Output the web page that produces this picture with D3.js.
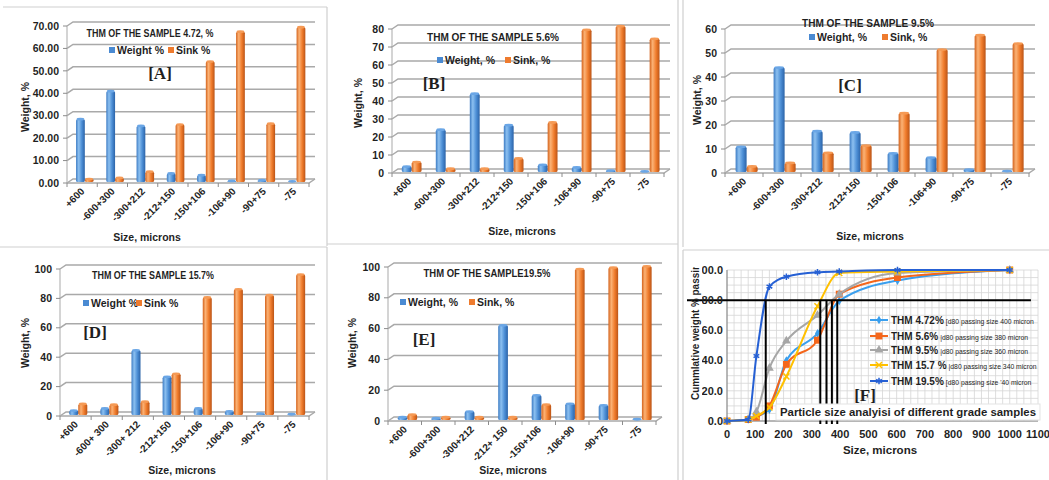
<!DOCTYPE html>
<html>
<head>
<meta charset="utf-8">
<script src="https://cdn.jsdelivr.net/npm/d3@7"></script>
<style>
  body { margin: 0; background: #fff; }
  text { font-family: "Liberation Sans Narrow", "Arial Narrow", "Liberation Sans", Arial, sans-serif; font-weight: bold; fill: #1f1f1f; }
</style>
</head>
<body>
<svg width="1049" height="480"></svg>
<script>
"use strict";

// size classes (microns) used by the five bar charts
let sizeClasses = ["+600", "-600+300", "-300+212", "-212+150", "-150+106", "-106+90", "-90+75", "-75"];
let sizeClassesD = ["+600", "-600+ 300", "-300+ 212", "-212+150", "-150+106", "-106+90", "-90+75", "-75"];
let sizeClassesE = ["+600", "-600+300", "-300+212", "-212+ 150", "-150+106", "-106+90", "-90+75", "-75"];

// [A] THM 4.72 %
let weightA = [28, 40.5, 25, 3.8, 3, 0.5, 0.8, 0.3];
let sinkA = [1.3, 1.8, 4.6, 25.6, 53.7, 67, 26, 69];
// [B] THM 5.6 %
let weightB = [3, 23.5, 43.5, 26, 4, 2.5, 0.8, 0.3];
let sinkB = [5.5, 1.8, 1.8, 7.5, 27.5, 79, 81, 74];
// [C] THM 9.5 %
let weightC = [10.5, 43.5, 17, 16.5, 7.8, 6, 1, 0.4];
let sinkC = [2.3, 3.8, 8, 11, 24.5, 51, 57, 53.5];
// [D] THM 15.7 %
let weightD = [3, 4.5, 44, 26, 4.5, 2.5, 1, 0.5];
let sinkD = [7.5, 7, 9, 28, 80, 85.5, 81.5, 95.5];
// [E] THM 19.5 %
let weightE = [1.8, 1.2, 5.5, 61.5, 16, 10.5, 9.5, 0.5];
let sinkE = [3.5, 1.8, 1.8, 1.8, 10, 98, 99, 99.8];

let ticks70 = [0, 10, 20, 30, 40, 50, 60, 70];
let ticks80 = [0, 10, 20, 30, 40, 50, 60, 70, 80];
let ticks60 = [0, 10, 20, 30, 40, 50, 60];
let ticks100 = [0, 20, 40, 60, 80, 100];

// [F] cumulative % passing
let passSizes = [0, 75, 104, 150, 210, 320, 397, 603, 1000];
let pass472 = [0, 1, 3, 7.5, 40, 58, 79.5, 93, 100];
let pass56 = [0, 1, 2.5, 10, 37.5, 53.5, 84, 95, 100];
let pass95 = [0, 1, 6, 35, 53, 70, 84, 98, 100];
let pass157 = [0, 1, 3.3, 9, 29.5, 76, 98, 99, 100];
let pass195 = [0, 1, 43, 89, 95.5, 98.5, 99, 100, 100];
let d80Sizes = [137, 330, 352, 371, 390];
let seriesNames = ["THM 4.72%", "THM 5.6%", "THM 9.5%", "THM 15.7 %", "THM 19.5%"];
let seriesNotes = ["[d80 passing size 400 micron", "|d80 passing size 380 micron", "|d80 passing size 360 micron",
                   "|d80 passing size 340 micron", "[d80 passing size '40 micron"];
let sizeTicks = [0, 100, 200, 300, 400, 500, 600, 700, 800, 900, 1000, 1100];
let passTicks = [0, 20, 40, 60, 80, 100];

let svg = d3.select("svg");
svg.append("rect").attr("width", 1049).attr("height", 480).attr("fill", "#fff");

let defs = svg.append("defs");

function addGrad(id, stops) {
    let gr = defs.append("linearGradient").attr("id", id).attr("x1", "0%").attr("x2", "100%");
    stops.forEach(function (s) {
        gr.append("stop").attr("offset", s[0]).attr("stop-color", s[1]);
    });
}
addGrad("gBlue", [["0%", "#3d7cc4"], ["30%", "#8cc0f0"], ["65%", "#4d8fd6"], ["100%", "#2b63a8"]]);
addGrad("gOrange", [["0%", "#d4631c"], ["30%", "#fbb275"], ["65%", "#f07c2c"], ["100%", "#bb5416"]]);

// panel frames
let frames = [[3, 7, 327, 7], [327, 7, 327, 246], [0, 247, 327, 247], [327, 247, 327, 480],
              [678, 0, 678, 244], [327, 244, 678, 244], [678, 244, 678, 480],
              [683, 0, 683, 247], [683, 250, 1049, 250], [683, 250, 683, 480]];
svg.append("g").selectAll("line").data(frames).enter().append("line")
    .attr("x1", function (d) { return d[0]; }).attr("y1", function (d) { return d[1]; })
    .attr("x2", function (d) { return d[2]; }).attr("y2", function (d) { return d[3]; })
    .attr("stroke", "#cfcfcf").attr("stroke-width", 1.2);

function barPanel(c) {
    let g = svg.append("g");
    let dx = 6, dy = 4;
    let x0 = d3.scaleBand().domain(c.labels).range([c.left, c.right - dx]);
    let bw = x0.bandwidth();
    let x1 = d3.scaleBand().domain(["w", "s"]).range([0, bw * 0.58]);
    let y = d3.scaleLinear().domain([0, c.max]).range([c.bottom, c.top]);

    // back wall + side wall gridlines
    g.append("g").selectAll("path").data(c.ticks).enter().append("path")
        .attr("d", function (t) {
            return "M" + c.left + "," + y(t) + "L" + (c.left + dx) + "," + (y(t) - dy) + "L" + c.right + "," + (y(t) - dy);
        })
        .attr("fill", "none").attr("stroke", "#a9a9a9").attr("stroke-width", 1.5);
    // floor front edge
    g.append("path")
        .attr("d", "M" + c.left + "," + y(0) + "L" + (c.right - dx) + "," + y(0) + "L" + c.right + "," + (y(0) - dy))
        .attr("fill", "none").attr("stroke", "#a9a9a9").attr("stroke-width", 1.5);
    // axis line and ticks
    g.append("line").attr("x1", c.left).attr("x2", c.left).attr("y1", y(0)).attr("y2", y(c.max))
        .attr("stroke", "#a9a9a9").attr("stroke-width", 1);
    g.append("g").selectAll("line").data(c.ticks).enter().append("line")
        .attr("x1", c.left - 4).attr("x2", c.left).attr("y1", function (t) { return y(t); }).attr("y2", function (t) { return y(t); })
        .attr("stroke", "#8c8c8c");
    g.append("g").selectAll("line").data(d3.range(c.labels.length + 1)).enter().append("line")
        .attr("x1", function (i) { return c.left + i * bw; }).attr("x2", function (i) { return c.left + i * bw; })
        .attr("y1", y(0)).attr("y2", y(0) + 4).attr("stroke", "#8c8c8c");

    g.append("g").selectAll("text").data(c.ticks).enter().append("text")
        .attr("x", c.left - 8).attr("y", function (t) { return y(t); }).attr("dy", "0.35em")
        .attr("text-anchor", "end").attr("font-size", 10.5)
        .text(function (t) { return c.fmt(t); });

    // bars
    let rows = c.labels.map(function (l, i) {
        return [{ key: "w", label: l, value: c.weight[i] }, { key: "s", label: l, value: c.sink[i] }];
    });
    let bars = g.append("g").selectAll("g").data(rows).enter().append("g")
        .attr("transform", function (d) { return "translate(" + (x0(d[0].label) + bw * 0.2 + dx / 2) + ",0)"; })
        .selectAll("g").data(function (d) { return d; }).enter().append("g");
    bars.append("rect")
        .attr("x", function (d) { return x1(d.key); })
        .attr("y", function (d) { return y(d.value) - 1; })
        .attr("width", x1.bandwidth())
        .attr("height", function (d) { return y(0) - y(d.value); })
        .attr("rx", 1.5)
        .attr("fill", function (d) { return d.key === "w" ? "url(#gBlue)" : "url(#gOrange)"; });
    bars.append("ellipse")
        .attr("cx", function (d) { return x1(d.key) + x1.bandwidth() / 2; })
        .attr("cy", function (d) { return y(d.value) - 1; })
        .attr("rx", x1.bandwidth() / 2 - 0.5).attr("ry", 1.4)
        .attr("fill", function (d) { return d.key === "w" ? "#6aa6e6" : "#f59a55"; });

    // category labels
    g.append("g").selectAll("text").data(c.labels).enter().append("text")
        .attr("transform", function (l) { return "translate(" + (x0(l) + bw / 2 + 3) + "," + (y(0) + 9) + ") rotate(-45)"; })
        .attr("text-anchor", "end").attr("font-size", 10)
        .text(function (l) { return l; });

    g.append("text").attr("x", c.titleX).attr("y", c.titleY).attr("dy", "0.35em")
        .attr("text-anchor", "middle").attr("font-size", 10).attr("textLength", c.titleW)
        .attr("lengthAdjust", "spacingAndGlyphs").text(c.title);

    let leg = g.append("g").attr("transform", "translate(" + c.legX + "," + c.legY + ")");
    leg.append("rect").attr("x", 0).attr("y", -3).attr("width", 6).attr("height", 6).attr("fill", "#4a8ad2");
    leg.append("text").attr("x", 8).attr("dy", "0.35em").attr("font-size", 10.5).text(c.legW);
    leg.append("rect").attr("x", c.legGap).attr("y", -3).attr("width", 6).attr("height", 6).attr("fill", "#ee7b2e");
    leg.append("text").attr("x", c.legGap + 8).attr("dy", "0.35em").attr("font-size", 10.5).text(c.legS);

    g.append("text").attr("x", c.tagX).attr("y", c.tagY).attr("dy", "0.35em").attr("text-anchor", "middle")
        .style("font-family", "'Liberation Serif', 'Times New Roman', serif").attr("font-size", 17).text(c.tag);

    g.append("text").attr("transform", "translate(" + c.ylabX + "," + c.ylabY + ") rotate(-90)")
        .attr("text-anchor", "middle").attr("dy", "0.35em").attr("font-size", 10.5).text("Weight, %");
    g.append("text").attr("x", c.xlabX).attr("y", c.xlabY).attr("dy", "0.35em")
        .attr("text-anchor", "middle").attr("font-size", 10.5).text("Size, microns");
}

barPanel({ labels: sizeClasses, weight: weightA, sink: sinkA, ticks: ticks70, max: 70, fmt: d3.format(".2f"),
    left: 67, right: 315, bottom: 183, top: 26,
    title: "THM OF THE SAMPLE 4.72, %", titleX: 150, titleY: 33, titleW: 127,
    legX: 109, legY: 50, legW: "Weight %", legS: "Sink %", legGap: 59,
    tag: "[A]", tagX: 160, tagY: 73, ylabX: 25, ylabY: 107, xlabX: 147, xlabY: 237 });

barPanel({ labels: sizeClasses, weight: weightB, sink: sinkB, ticks: ticks80, max: 80, fmt: d3.format("d"),
    left: 392, right: 670, bottom: 173, top: 29,
    title: "THM OF THE  SAMPLE 5.6%", titleX: 493, titleY: 37, titleW: 132,
    legX: 437, legY: 60, legW: "Weight, %", legS: "Sink, %", legGap: 68,
    tag: "[B]", tagX: 434, tagY: 83, ylabX: 358, ylabY: 103, xlabX: 522, xlabY: 231 });

barPanel({ labels: sizeClasses, weight: weightC, sink: sinkC, ticks: ticks60, max: 60, fmt: d3.format("d"),
    left: 725, right: 1035, bottom: 173, top: 29,
    title: "THM OF THE SAMPLE 9.5%", titleX: 868, titleY: 23, titleW: 132,
    legX: 809, legY: 37, legW: "Weight, %", legS: "Sink, %", legGap: 73,
    tag: "[C]", tagX: 850, tagY: 85, ylabX: 697, ylabY: 100, xlabX: 870, xlabY: 236 });

barPanel({ labels: sizeClassesD, weight: weightD, sink: sinkD, ticks: ticks100, max: 100, fmt: d3.format("d"),
    left: 60, right: 315, bottom: 416, top: 269,
    title: "THM OF THE SAMPLE 15.7%", titleX: 153, titleY: 275, titleW: 122,
    legX: 83, legY: 303, legW: "Weight %", legS: "Sink %", legGap: 53,
    tag: "[D]", tagX: 95, tagY: 332, ylabX: 25, ylabY: 343, xlabX: 182, xlabY: 470 });

barPanel({ labels: sizeClassesE, weight: weightE, sink: sinkE, ticks: ticks100, max: 100, fmt: d3.format("d"),
    left: 388, right: 662, bottom: 421, top: 267,
    title: "THM OF THE SAMPLE19.5%", titleX: 487, titleY: 273, titleW: 127,
    legX: 400, legY: 302, legW: "Weight, %", legS: "Sink, %", legGap: 69,
    tag: "[E]", tagX: 424, tagY: 339, ylabX: 352, ylabY: 343, xlabX: 513, xlabY: 470 });

// ---- panel F : cumulative passing curves ----
let fx = d3.scaleLinear().domain([0, 1100]).range([727, 1038]);
let fy = d3.scaleLinear().domain([0, 100]).range([421, 270]);
let gf = svg.append("g");

gf.append("g").selectAll("line").data(d3.range(0, 1101, 25)).enter().append("line")
    .attr("x1", function (d) { return fx(d); }).attr("x2", function (d) { return fx(d); })
    .attr("y1", fy(0)).attr("y2", fy(100)).attr("stroke", "#d6d6d6").attr("stroke-width", 0.8);
gf.append("g").selectAll("line").data(d3.range(0, 101, 5)).enter().append("line")
    .attr("x1", fx(0)).attr("x2", fx(1100))
    .attr("y1", function (d) { return fy(d); }).attr("y2", function (d) { return fy(d); })
    .attr("stroke", "#d6d6d6").attr("stroke-width", 0.8);
gf.append("line").attr("x1", fx(0)).attr("x2", fx(0)).attr("y1", fy(0)).attr("y2", fy(100)).attr("stroke", "#7f7f7f");
gf.append("line").attr("x1", fx(0)).attr("x2", fx(1100)).attr("y1", fy(0)).attr("y2", fy(0)).attr("stroke", "#7f7f7f");

let series = [
    { name: seriesNames[0], note: seriesNotes[0], values: pass472, color: "#3a9fee", sym: d3.symbolDiamond, size: 22, fill: true },
    { name: seriesNames[1], note: seriesNotes[1], values: pass56, color: "#f4661b", sym: d3.symbolSquare, size: 48, fill: true },
    { name: seriesNames[2], note: seriesNotes[2], values: pass95, color: "#a6a6a6", sym: d3.symbolTriangle, size: 34, fill: true },
    { name: seriesNames[3], note: seriesNotes[3], values: pass157, color: "#ffc000", sym: d3.symbolX, size: 26, fill: false },
    { name: seriesNames[4], note: seriesNotes[4], values: pass195, color: "#2660d4", sym: d3.symbolAsterisk, size: 30, fill: false }
];

let curve = d3.line()
    .x(function (d, i) { return fx(passSizes[i]); })
    .y(function (d) { return fy(d); })
    .curve(d3.curveMonotoneX);

series.forEach(function (s) {
    gf.append("path").attr("d", curve(s.values)).attr("fill", "none")
        .attr("stroke", s.color).attr("stroke-width", 2);
    gf.append("g").selectAll("path").data(s.values).enter().append("path")
        .attr("transform", function (d, i) { return "translate(" + fx(passSizes[i]) + "," + fy(d) + ")"; })
        .attr("d", d3.symbol().type(s.sym).size(s.size))
        .attr("fill", s.fill ? s.color : "none").attr("stroke", s.color).attr("stroke-width", s.fill ? 0 : 1.5);
});

// d80 guide lines
gf.append("line").attr("x1", 687).attr("x2", fx(1075)).attr("y1", fy(80)).attr("y2", fy(80))
    .attr("stroke", "#000").attr("stroke-width", 2);
gf.append("g").selectAll("line").data(d80Sizes).enter().append("line")
    .attr("x1", function (d) { return fx(d); }).attr("x2", function (d) { return fx(d); })
    .attr("y1", fy(80)).attr("y2", fy(0) + 3).attr("stroke", "#000").attr("stroke-width", 2);

// axes text
let clipT = defs.append("clipPath").attr("id", "clipTicks");
clipT.append("rect").attr("x", 702).attr("y", 250).attr("width", 40).attr("height", 200);
gf.append("g").attr("clip-path", "url(#clipTicks)").selectAll("text").data(passTicks).enter().append("text")
    .attr("x", 723).attr("y", function (d) { return fy(d); }).attr("dy", "0.35em")
    .attr("text-anchor", "end").attr("font-size", 11).text(function (d) { return d3.format(".1f")(d); });
gf.append("g").selectAll("text").data(sizeTicks).enter().append("text")
    .attr("x", function (d) { return fx(d); }).attr("y", 434).attr("dy", "0.35em")
    .attr("text-anchor", "middle").attr("font-size", 11).text(function (d) { return d; });
gf.append("text").attr("x", 880).attr("y", 450).attr("dy", "0.35em").attr("text-anchor", "middle")
    .attr("font-size", 11.5).text("Size, microns");

let clipY = defs.append("clipPath").attr("id", "clipYlab");
clipY.append("rect").attr("x", 684).attr("y", 267).attr("width", 20).attr("height", 200);
gf.append("g").attr("clip-path", "url(#clipYlab)").append("text")
    .attr("transform", "translate(695,400) rotate(-90)").attr("dy", "0.35em")
    .attr("font-size", 11).attr("textLength", 142).attr("lengthAdjust", "spacingAndGlyphs")
    .text("Cummlative weight % passing");

// legend
let lg = gf.append("g").selectAll("g").data(series).enter().append("g")
    .attr("transform", function (d, i) { return "translate(870," + [320, 336, 350, 365, 381][i] + ")"; });
lg.append("line").attr("x1", 0).attr("x2", 18).attr("stroke", function (d) { return d.color; }).attr("stroke-width", 2);
lg.append("path").attr("transform", "translate(9,0)")
    .attr("d", function (d) { return d3.symbol().type(d.sym).size(d.size)(); })
    .attr("fill", function (d) { return d.fill ? d.color : "none"; })
    .attr("stroke", function (d) { return d.color; }).attr("stroke-width", function (d) { return d.fill ? 0 : 1.5; });
let lt = lg.append("text").attr("x", 21).attr("dy", "0.35em").attr("font-size", 10);
lt.append("tspan").text(function (d) { return d.name; });
lt.append("tspan").attr("dx", 2).attr("font-size", 6.8).style("font-weight", "normal").text(function (d) { return d.note; });

// title box and tag
gf.append("rect").attr("x", 776).attr("y", 404).attr("width", 264).attr("height", 16)
    .attr("fill", "#fff").attr("stroke", "#e3e3e3");
gf.append("text").attr("x", 908).attr("y", 412).attr("dy", "0.35em").attr("text-anchor", "middle")
    .attr("font-size", 11.5).attr("textLength", 256).attr("lengthAdjust", "spacingAndGlyphs")
    .text("Particle size analyisi of different grade samples");
gf.append("text").attr("x", 865).attr("y", 395).attr("dy", "0.35em").attr("text-anchor", "middle")
    .style("font-family", "'Liberation Serif', 'Times New Roman', serif").attr("font-size", 17).text("[F]");
</script>
</body>
</html>
